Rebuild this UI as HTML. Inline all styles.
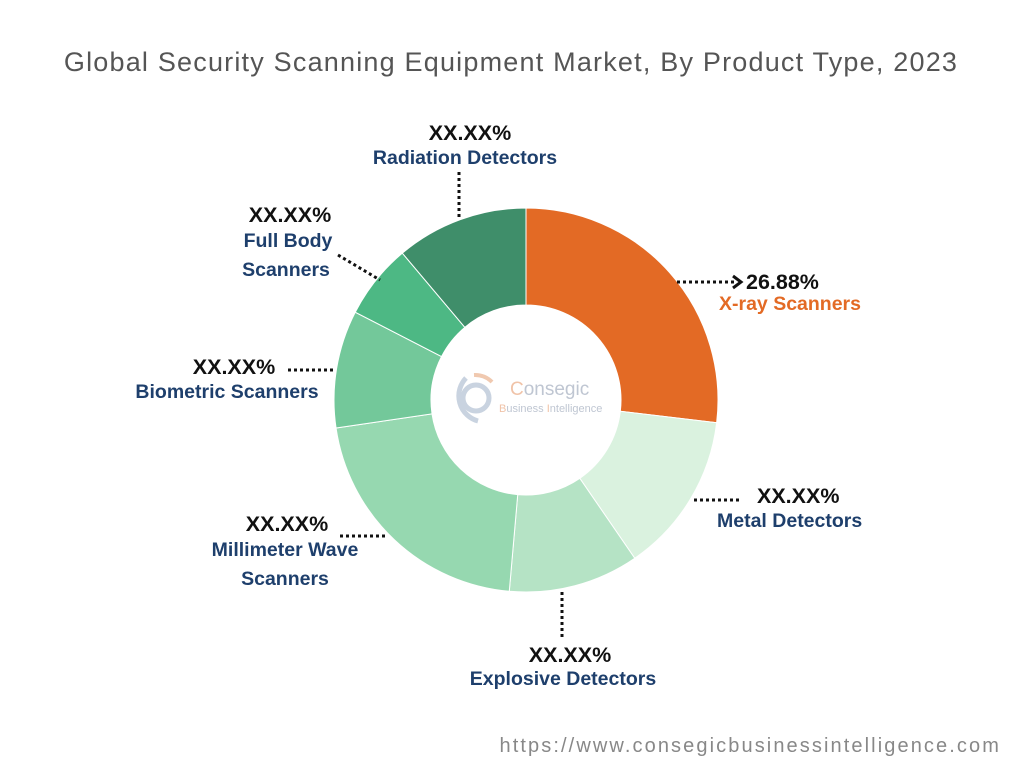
<!DOCTYPE html>
<html><head><style>
body{margin:0;background:#fff;}
svg text{font-family:"Liberation Sans",sans-serif;}
.p{font-weight:bold;font-size:21.5px;fill:#111;}
.l{font-weight:bold;font-size:19.5px;fill:#1E3F6C;}
</style></head><body>
<svg id="s" width="1024" height="768" viewBox="0 0 1024 768">
<text x="511" y="71" text-anchor="middle" font-size="27" letter-spacing="1.2" fill="#555">Global Security Scanning Equipment Market, By Product Type, 2023</text>
<g id="d"></g>
<circle cx="526" cy="400" r="95" fill="#fff"/>
<g fill="none" stroke-width="5">
<circle cx="476" cy="398" r="13" stroke="#C9D3E0"/>
<path d="M466 378 A26 26 0 0 0 478 421" stroke="#C9D3E0"/>
<path d="M463 374 V410" stroke="#C9D3E0" stroke-width="0"/>
<path d="M474 375 A24 24 0 0 1 492 382" stroke="#F0C9B0" stroke-width="4"/>
</g>
<text x="510" y="395" font-size="19" fill="#BFC6D2"><tspan fill="#F0C3A8">C</tspan>onsegic</text>
<text x="499" y="412" font-size="11" fill="#BFC6D2"><tspan fill="#F0C3A8">B</tspan>usiness <tspan fill="#F0C3A8">I</tspan>ntelligence</text>
<g stroke="#111" stroke-width="3" stroke-dasharray="3 3" fill="none">
<path d="M459 172 V220"/>
<path d="M338 255 L380 280"/>
<path d="M677 282 H736"/>
<path d="M288 370 H335"/>
<path d="M694 500 H740"/>
<path d="M340 536 H387"/>
<path d="M562 592 V640"/>
</g>
<path d="M733 276 L741 282 L733 288" stroke="#111" stroke-width="3" fill="none"/>
<text class="p" x="470" y="140" text-anchor="middle">XX.XX%</text>
<text class="l" x="465" y="164" text-anchor="middle">Radiation Detectors</text>
<text class="p" x="290" y="222" text-anchor="middle">XX.XX%</text>
<text class="l" x="288" y="247" text-anchor="middle">Full Body</text>
<text class="l" x="286" y="276" text-anchor="middle">Scanners</text>
<text class="p" x="746" y="289">26.88%</text>
<text class="l" x="719" y="310" style="fill:#E36A25">X-ray Scanners</text>
<text class="p" x="234" y="374" text-anchor="middle">XX.XX%</text>
<text class="l" x="227" y="398" text-anchor="middle">Biometric Scanners</text>
<text class="p" x="757" y="503">XX.XX%</text>
<text class="l" x="717" y="527">Metal Detectors</text>
<text class="p" x="287" y="531" text-anchor="middle">XX.XX%</text>
<text class="l" x="285" y="556" text-anchor="middle">Millimeter Wave</text>
<text class="l" x="285" y="585" text-anchor="middle">Scanners</text>
<text class="p" x="570" y="662" text-anchor="middle">XX.XX%</text>
<text class="l" x="563" y="685" text-anchor="middle">Explosive Detectors</text>
<text x="1001" y="752" text-anchor="end" font-size="20" letter-spacing="2.1" fill="#888">https://www.consegicbusinessintelligence.com</text>
</svg>
<script>
var segs=[[0,96.8,"#E36A25"],[96.8,145.5,"#DAF2DF"],[145.5,185,"#B5E3C5"],[185,261.6,"#96D8B0"],[261.6,297.2,"#73C89A"],[297.2,319.9,"#4DB884"],[319.9,360,"#3F8E6A"]];
var cx=526,cy=400,R=192,r=95,h="";
function pt(a,rr){a=a*Math.PI/180;return (cx+rr*Math.sin(a)).toFixed(2)+" "+(cy-rr*Math.cos(a)).toFixed(2);}
segs.forEach(function(s){var lg=(s[1]-s[0])>180?1:0;
h+='<path fill="'+s[2]+'" stroke="#fff" stroke-width="1" d="M'+pt(s[0],R)+' A'+R+' '+R+' 0 '+lg+' 1 '+pt(s[1],R)+' L'+pt(s[1],r)+' A'+r+' '+r+' 0 '+lg+' 0 '+pt(s[0],r)+' Z"/>';});
document.getElementById("d").innerHTML=h;
</script>
</body></html>
